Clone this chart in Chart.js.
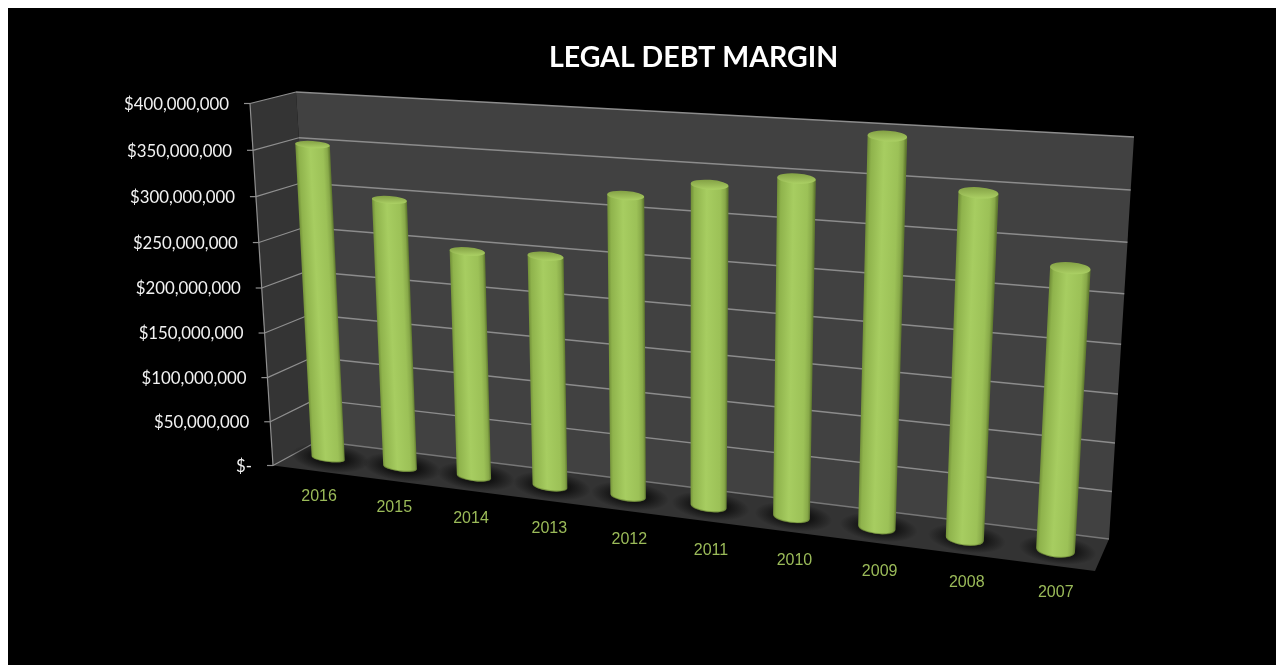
<!DOCTYPE html>
<html>
<head>
<meta charset="utf-8">
<title>Legal Debt Margin</title>
<script src="https://cdn.jsdelivr.net/npm/chart.js@4"></script>
<style>
  html, body { background: #fff; overflow: hidden; }
  body { margin: 8px 0 0 8px; }
  canvas { display: block; }
</style>
</head>
<body>
<canvas id="debtChart" width="1268" height="657"></canvas>
<script>
const years = ["2016", "2015", "2014", "2013", "2012", "2011", "2010", "2009", "2008", "2007"];
const margin = [353000000, 299000000, 250000000, 252000000, 322000000, 339000000, 351000000, 398000000, 349000000, 283000000];
const tickStep = 50000000;
const tickMax = 400000000;

// page corners of the 3D box: bottom-left, bottom-right, top-right, top-left
const backWall = [[318, 441], [1109, 539], [1134, 137], [296, 92]];
const barPlane = [[293, 453.6], [1102, 555.8], [1126, 147.8], [273.5, 98.6]];
const frontLeft = { top: [250, 103.5], bottom: [273, 465.5] };
const frontRight = [1095, 571];
const labelLine = [[282, 491.7], [1101, 598.4]];

const barStops = [
  [0, "#76953b"], [0.08, "#8fb34c"], [0.42, "#a7cd61"],
  [0.8, "#9cc157"], [0.93, "#88a949"], [1, "#627d30"],
];

function homography(q) {
  const [p0, p1, p2, p3] = q;
  const dx1 = p1[0] - p2[0], dx2 = p3[0] - p2[0], sx = p0[0] - p1[0] + p2[0] - p3[0];
  const dy1 = p1[1] - p2[1], dy2 = p3[1] - p2[1], sy = p0[1] - p1[1] + p2[1] - p3[1];
  const den = dx1 * dy2 - dx2 * dy1;
  const g = (sx * dy2 - dx2 * sy) / den;
  const h = (dx1 * sy - sx * dy1) / den;
  const a = p1[0] - p0[0] + g * p1[0], b = p3[0] - p0[0] + h * p3[0];
  const d = p1[1] - p0[1] + g * p1[1], e = p3[1] - p0[1] + h * p3[1];
  return (u, v) => {
    const w = g * u + h * v + 1;
    return [(a * u + b * v + p0[0]) / w, (d * u + e * v + p0[1]) / w];
  };
}

function poly(ctx, pts, fill) {
  ctx.beginPath();
  pts.forEach((p, i) => (i ? ctx.lineTo(p[0], p[1]) : ctx.moveTo(p[0], p[1])));
  ctx.closePath();
  ctx.fillStyle = fill;
  ctx.fill();
}

function line(ctx, a, b, color, width) {
  ctx.beginPath();
  ctx.moveTo(a[0], a[1]);
  ctx.lineTo(b[0], b[1]);
  ctx.strokeStyle = color;
  ctx.lineWidth = width;
  ctx.stroke();
}

// front edge of the left wall, very slightly foreshortened
function frontPoint(v) {
  const c = -0.038;
  const { top, bottom } = frontLeft;
  const y = (bottom[1] + v * (top[1] * (1 + c) - bottom[1])) / (1 + c * v);
  const k = (bottom[1] - y) / (bottom[1] - top[1]);
  return [bottom[0] + (top[0] - bottom[0]) * k, y];
}

function drawCylinder(ctx, plane, u, hw, v) {
  const ryBottom = 3.5 + 4 * u;
  const ryTop = 3.5 + 2.5 * u;
  const bl = plane(u - hw, 0), br = plane(u + hw, 0), tl = plane(u - hw, v), tr = plane(u + hw, v);
  const bc = plane(u, 0), tc = plane(u, v);
  const bAngle = Math.atan2(br[1] - bl[1], br[0] - bl[0]);
  const tAngle = Math.atan2(tr[1] - tl[1], tr[0] - tl[0]);
  const bRx = Math.hypot(br[0] - bl[0], br[1] - bl[1]) / 2;
  const tRx = Math.hypot(tr[0] - tl[0], tr[1] - tl[1]) / 2;

  ctx.beginPath();
  ctx.ellipse(bc[0], bc[1], bRx, ryBottom, bAngle, Math.PI, 0, true);
  ctx.lineTo(tr[0], tr[1]);
  ctx.lineTo(tl[0], tl[1]);
  ctx.closePath();

  // shear so the shading runs along the leaning cylinder
  const shear = (tc[0] - bc[0]) / (tc[1] - bc[1]);
  ctx.save();
  ctx.transform(1, 0, shear, 1, -shear * bc[1], 0);
  const body = ctx.createLinearGradient(bl[0], 0, br[0], 0);
  barStops.forEach(([t, c]) => body.addColorStop(t, c));
  ctx.fillStyle = body;
  ctx.fill();
  ctx.restore();

  ctx.beginPath();
  ctx.ellipse(bc[0], bc[1], bRx - 0.3, ryBottom - 0.3, bAngle, Math.PI * 0.9, Math.PI * 0.1, true);
  ctx.strokeStyle = "rgba(96,120,48,0.55)";
  ctx.lineWidth = 1.2;
  ctx.stroke();

  const cap = ctx.createLinearGradient(tc[0], tc[1] - ryTop, tc[0], tc[1] + ryTop);
  cap.addColorStop(0, "#84a245");
  cap.addColorStop(0.55, "#99ba56");
  cap.addColorStop(1, "#abd064");
  ctx.beginPath();
  ctx.ellipse(tc[0], tc[1], tRx, ryTop, tAngle, 0, Math.PI * 2);
  ctx.fillStyle = cap;
  ctx.fill();
}

const box3d = {
  id: "box3d",
  // walls, floor and grid go under the bars
  beforeDatasetsDraw(chart) {
    const { ctx, scales: { y } } = chart;
    const back = homography(backWall);
    ctx.save();
    ctx.translate(-8, -8);
    poly(ctx, [frontLeft.bottom, backWall[0], backWall[3], frontLeft.top], "#343434");
    poly(ctx, backWall, "#414141");
    poly(ctx, [frontLeft.bottom, frontRight, backWall[1], backWall[0]], "#333333");

    y.ticks.forEach((tick) => {
      const v = tick.value / tickMax;
      const f = frontPoint(v);
      line(ctx, [f[0] - 6, f[1]], f, "#8f8f8f", 1.2);
      line(ctx, f, back(0, v), "#8f8f8f", 1.2);
      line(ctx, back(0, v), back(1, v), tick.value > 0 ? "#8c8c8c" : "#777777", 1.5);
    });
    line(ctx, frontLeft.top, frontLeft.bottom, "#8f8f8f", 1.2);
    ctx.restore();
  },
  // tick labels and cylinders, placed from the scales' own pixels
  afterDatasetsDraw(chart) {
    const { ctx, chartArea: area, scales: { x, y } } = chart;
    const plane = homography(barPlane);
    const elements = chart.getDatasetMeta(0).data;
    ctx.save();
    ctx.translate(-8, -8);

    elements.forEach((el) => {
      const u = (el.x - area.left) / area.width;
      const base = plane(u, 0);
      const r = 26 + el.width * 0.35;
      ctx.save();
      ctx.translate(base[0] + 2, base[1]);
      ctx.rotate(0.12);
      ctx.scale(1, 0.36);
      const g = ctx.createRadialGradient(0, 0, r * 0.45, 0, 0, r);
      g.addColorStop(0, "rgba(14,14,14,0.85)");
      g.addColorStop(1, "rgba(14,14,14,0)");
      ctx.fillStyle = g;
      ctx.beginPath();
      ctx.arc(0, 0, r, 0, Math.PI * 2);
      ctx.fill();
      ctx.restore();
    });

    elements.forEach((el) => {
      const u = (el.x - area.left) / area.width;
      const hw = (el.width / area.width / 2) * (1.07 - 0.12 * u);
      const v = (area.bottom - el.y) / area.height;
      drawCylinder(ctx, plane, u, hw, v);
    });

    ctx.textBaseline = "middle";
    ctx.font = "16.8px Lato";
    ctx.fillStyle = "#f2f2f2";
    ctx.textAlign = "right";
    y.ticks.forEach((tick) => {
      const f = frontPoint(tick.value / tickMax);
      ctx.fillText(tick.label, f[0] - 21, f[1] + 1);
    });

    ctx.font = '16px "Liberation Sans"';
    ctx.fillStyle = "#9bbb59";
    ctx.textAlign = "center";
    x.ticks.forEach((tick, i) => {
      const t = (x.getPixelForTick(i) - area.left) / area.width;
      const k = (t * 0.9) / (1 - 0.1 * t);
      const px = labelLine[0][0] + (labelLine[1][0] - labelLine[0][0]) * k;
      const py = labelLine[0][1] + (labelLine[1][1] - labelLine[0][1]) * t;
      ctx.fillText(x.getLabelForValue(tick.value), px, py);
    });
    ctx.restore();
  },
};

new Chart(document.getElementById("debtChart"), {
  type: "bar",
  data: {
    labels: years,
    datasets: [
      {
        label: "Legal Debt Margin",
        data: margin,
        backgroundColor: "transparent",
        barPercentage: 0.44,
        categoryPercentage: 1,
      },
    ],
  },
  options: {
    responsive: false,
    animation: false,
    layout: { padding: { left: 252, right: 157, top: 0, bottom: 200 } },
    scales: {
      x: {
        display: true,
        grid: { display: false },
        border: { display: false },
        ticks: { display: false },
      },
      y: {
        min: 0,
        max: tickMax,
        grid: { display: false },
        border: { display: false },
        ticks: {
          display: false,
          stepSize: tickStep,
          callback: (value) => (value === 0 ? "$-" : "$" + value.toLocaleString("en-US")),
        },
      },
    },
    plugins: {
      legend: { display: false },
      tooltip: { enabled: false },
      title: {
        display: true,
        text: "LEGAL DEBT MARGIN",
        fullSize: false,
        color: "#ffffff",
        font: { family: "Lato", size: 28.5, weight: "bold" },
        padding: { top: 33, bottom: 32 },
      },
    },
  },
  plugins: [
    {
      id: "blackBackground",
      beforeDraw(chart) {
        chart.ctx.fillStyle = "#000";
        chart.ctx.fillRect(0, 0, chart.width, chart.height);
      },
    },
    box3d,
  ],
});
</script>
</body>
</html>
